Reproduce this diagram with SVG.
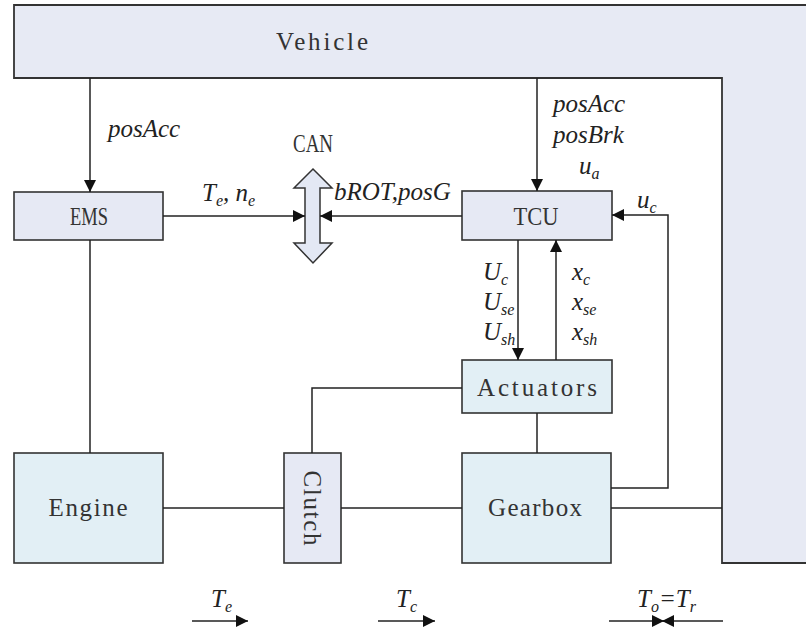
<svg xmlns="http://www.w3.org/2000/svg" width="806" height="634" viewBox="0 0 806 634">
<style>
.box{stroke:#333;stroke-width:1.6}
.lav{fill:#e6e9f4}
.cy{fill:#e2eff5}
.ln{fill:none;stroke:#222;stroke-width:1.5}
.mono{font-family:"Liberation Serif",serif;font-size:25px;fill:#333;text-anchor:middle}
.ser{font-family:"Liberation Serif",serif;font-size:26px;fill:#333;text-anchor:middle}
.it{font-family:"Liberation Serif",serif;font-style:italic;font-size:25px;fill:#222}
.sub{font-size:16px}
</style>
<defs>
<marker id="ah" viewBox="0 0 12 12" refX="12" refY="6" markerWidth="12" markerHeight="12" markerUnits="userSpaceOnUse" orient="auto">
<path d="M0,0 L12,6 L0,12 Z" fill="#111"/>
</marker>
</defs>
<rect width="806" height="634" fill="#fff"/>
<g id="vehicle">
<polygon points="14,5 806,5 806,563 722,563 722,78 14,78" fill="#e7eaf4"/>
<path d="M806,5 H14 V78 H722 V563 H806" fill="none" stroke="#333" stroke-width="1.8"/>
<text class="mono" x="322" y="50" textLength="92" lengthAdjust="spacing">Vehicle</text>
</g>
<g id="ems">
<rect class="box lav" x="14" y="192" width="149" height="48"/>
<text class="ser" x="89" y="225" textLength="38" lengthAdjust="spacingAndGlyphs">EMS</text>
</g>
<g id="tcu">
<rect class="box lav" x="462" y="191" width="150" height="49"/>
<text class="ser" x="536" y="225" textLength="45" lengthAdjust="spacingAndGlyphs">TCU</text>
</g>
<g id="can">
<polygon points="313,169 332,188 320,188 320,243 332,243 313,263 294,243 305,243 305,188 294,188" fill="#e3e8f4" stroke="#333" stroke-width="1.5"/>
<text class="ser" x="313" y="152" textLength="40" lengthAdjust="spacingAndGlyphs">CAN</text>
</g>
<g id="actuators">
<rect class="box cy" x="462" y="360" width="150" height="53"/>
<text class="mono" x="537" y="396" textLength="120" lengthAdjust="spacing">Actuators</text>
</g>
<g id="engine">
<rect class="box cy" x="14" y="453" width="149" height="110"/>
<text class="mono" x="88" y="516" textLength="79" lengthAdjust="spacing">Engine</text>
</g>
<g id="clutch">
<rect class="box lav" x="284" y="453" width="57" height="110"/>
<text class="mono" x="0" y="0" transform="translate(304,508) rotate(90)" textLength="75" lengthAdjust="spacing">Clutch</text>
</g>
<g id="gearbox">
<rect class="box cy" x="462" y="453" width="149" height="110"/>
<text class="mono" x="535" y="516" textLength="94" lengthAdjust="spacing">Gearbox</text>
</g>
<g id="connectors">
<line class="ln" x1="90" y1="78" x2="90" y2="192" marker-end="url(#ah)"/>
<line class="ln" x1="537" y1="78" x2="537" y2="191" marker-end="url(#ah)"/>
<line class="ln" x1="163" y1="216" x2="305" y2="216" marker-end="url(#ah)"/>
<line class="ln" x1="462" y1="216" x2="320" y2="216" marker-end="url(#ah)"/>
<line class="ln" x1="518" y1="240" x2="518" y2="360" marker-end="url(#ah)"/>
<line class="ln" x1="556" y1="360" x2="556" y2="240" marker-end="url(#ah)"/>
<path class="ln" d="M611,488 H668 V215 H612" marker-end="url(#ah)"/>
<line class="ln" x1="90" y1="240" x2="90" y2="453"/>
<line class="ln" x1="163" y1="508" x2="284" y2="508"/>
<line class="ln" x1="341" y1="508" x2="462" y2="508"/>
<path class="ln" d="M312,453 V388 H462"/>
<line class="ln" x1="537" y1="413" x2="537" y2="453"/>
<line class="ln" x1="611" y1="508" x2="722" y2="508"/>
<line class="ln" x1="192" y1="621" x2="248" y2="621" marker-end="url(#ah)"/>
<line class="ln" x1="378" y1="621" x2="435" y2="621" marker-end="url(#ah)"/>
<line class="ln" x1="609" y1="621" x2="664" y2="621" marker-end="url(#ah)"/>
<line class="ln" x1="723" y1="621" x2="662" y2="621" marker-end="url(#ah)"/>
</g>
<g id="labels">
<text class="it" x="108" y="137">posAcc</text>
<text class="it" x="202" y="201">T<tspan class="sub" dy="5">e</tspan><tspan dy="-5">, n</tspan><tspan class="sub" dy="5">e</tspan></text>
<text class="it" x="334" y="200">bROT,posG</text>
<text class="it" x="553" y="112">posAcc</text>
<text class="it" x="553" y="143">posBrk</text>
<text class="it" x="579" y="174">u<tspan class="sub" dy="5">a</tspan></text>
<text class="it" x="637" y="208">u<tspan class="sub" dy="5">c</tspan></text>
<text class="it" x="483" y="280">U<tspan class="sub" dy="5">c</tspan></text>
<text class="it" x="483" y="310">U<tspan class="sub" dy="5">se</tspan></text>
<text class="it" x="483" y="340">U<tspan class="sub" dy="5">sh</tspan></text>
<text class="it" x="572" y="280">x<tspan class="sub" dy="5">c</tspan></text>
<text class="it" x="572" y="310">x<tspan class="sub" dy="5">se</tspan></text>
<text class="it" x="572" y="340">x<tspan class="sub" dy="5">sh</tspan></text>
<text class="it" x="211" y="607">T<tspan class="sub" dy="5">e</tspan></text>
<text class="it" x="396" y="607">T<tspan class="sub" dy="5">c</tspan></text>
<text class="it" x="637" y="607">T<tspan class="sub" dy="5">o</tspan><tspan dy="-5">=T</tspan><tspan class="sub" dy="5">r</tspan></text>
</g>
</svg>
